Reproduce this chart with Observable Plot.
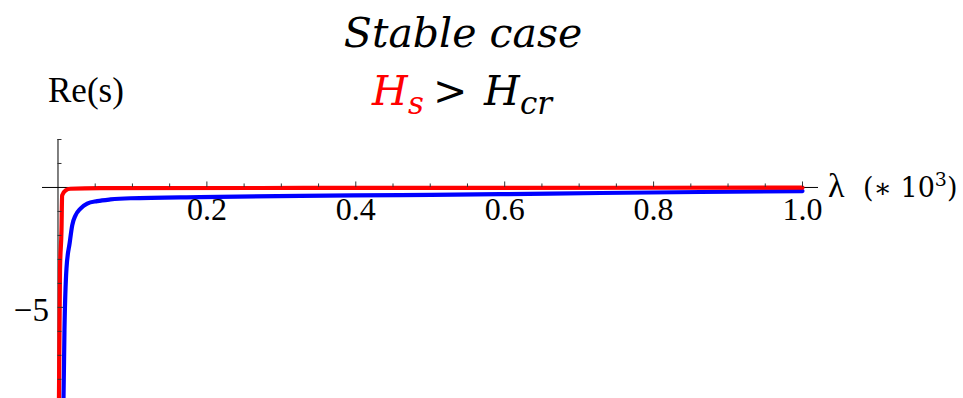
<!DOCTYPE html>
<html>
<head>
<meta charset="utf-8">
<script src="https://cdn.jsdelivr.net/npm/d3@7"></script>
<script src="https://cdn.jsdelivr.net/npm/@observablehq/plot@0.6"></script>
<style>
  html, body { margin: 0; padding: 0; background: #fff; }
  #chart { position: relative; width: 963px; height: 398px; overflow: hidden; }
  #chart svg { position: absolute; left: 0; top: 0; }
</style>
</head>
<body>
<div id="chart"></div>
<script>
// Growth rate Re(s) against wavenumber λ (in units of 10^3), stable case H_s > H_cr

// Red branch
const lambdaRed = [0.0010, 0.0013, 0.0027, 0.0047, 0.0056, 0.0101, 0.0168, 0.057, 0.33, 0.60, 1.00];
const reRed     = [-9.4,   -8.8,   -3.46,  -1.79,  -0.33,  -0.125, -0.054, -0.03, -0.02, -0.015, -0.01];

// Blue branch
const lambdaBlue = [0.0068, 0.0074, 0.0087, 0.0114, 0.0158, 0.0191, 0.0235, 0.0302, 0.0392, 0.0527, 0.0705, 0.0974, 0.191, 0.326, 0.460, 0.594, 0.729, 0.863, 1.000];
const reBlue     = [-9.4,   -8.8,   -5.96,  -3.38,  -2.29,  -1.58,  -1.17,  -0.88,  -0.67,  -0.57,  -0.50,  -0.45,  -0.40, -0.35, -0.32, -0.28, -0.23, -0.19, -0.15];

// Axis ticks and labels
const xMajorTicks = [0.2, 0.4, 0.6, 0.8, 1.0];
const xMajorLabels = ["0.2", "0.4", "0.6", "0.8", "1.0"];
const xMinorTicks = [0.05, 0.1, 0.15, 0.25, 0.3, 0.35, 0.45, 0.5, 0.55, 0.65, 0.7, 0.75, 0.85, 0.9, 0.95];
const yMajorTicks = [-5];
const yMajorLabels = ["\u22125"];
const yMinorTicks = [2, 1, -1, -2, -3, -4, -6, -7, -8];

const red = lambdaRed.map((x, i) => ({x, y: reRed[i]}));
const blue = lambdaBlue.map((x, i) => ({x, y: reBlue[i]}));
const xLabelRows = xMajorTicks.map((x, i) => ({x, label: xMajorLabels[i]}));
const yLabelRows = yMajorTicks.map((y, i) => ({y, label: yMajorLabels[i]}));

const serif = "'Liberation Serif', 'Times New Roman', serif";

const plot = Plot.plot({
  width: 963,
  height: 398,
  marginLeft: 42,
  marginRight: 145,
  marginTop: 139,
  marginBottom: 0,
  x: {domain: [-0.0208, 1.0215], axis: null},
  y: {domain: [-8.8, 2], axis: null},
  style: {background: "transparent", overflow: "visible"},
  marks: [
    Plot.ruleY([0], {stroke: "#000", strokeWidth: 1}),
    Plot.ruleX([0], {stroke: "#000", strokeWidth: 1}),
    Plot.line(blue, {x: "x", y: "y", stroke: "#0000ff", strokeWidth: 4.2, curve: "monotone-x", clip: true}),
    Plot.line(red, {x: "x", y: "y", stroke: "#ff0000", strokeWidth: 4.2, curve: "monotone-x", clip: true}),
    // ticks on the λ axis, pointing up
    Plot.ruleX(xMinorTicks, {x: d => d, y1: 0, y2: 0, insetBottom: 3.5, stroke: "#333", strokeWidth: 1}),
    Plot.ruleX(xMajorTicks, {x: d => d, y1: 0, y2: 0, insetBottom: 5.5, stroke: "#333", strokeWidth: 1}),
    // ticks on the Re(s) axis, pointing right
    Plot.ruleY(yMinorTicks, {y: d => d, x1: 0, x2: 0, insetRight: -4, stroke: "#333", strokeWidth: 1}),
    Plot.ruleY(yMajorTicks, {y: d => d, x1: 0, x2: 0, insetRight: -5.5, stroke: "#333", strokeWidth: 1}),
    Plot.text(xLabelRows, {x: "x", y: 0, text: "label", dy: 22, fontSize: 32, fontFamily: serif, fill: "#000"}),
    Plot.text(yLabelRows, {x: 0, y: "y", text: "label", textAnchor: "end", dx: -9, dy: 3, fontSize: 33, fontFamily: serif, fill: "#000"})
  ]
});

const host = document.getElementById("chart");
host.appendChild(plot);

// Title, condition and axis names
const overlay = d3.select(host).append("svg")
  .attr("width", 963).attr("height", 398)
  .style("pointer-events", "none");

const mathFont = "'DejaVu Serif', serif";

overlay.append("text")
  .attr("x", 463).attr("y", 47)
  .attr("text-anchor", "middle")
  .attr("font-family", mathFont).attr("font-style", "italic")
  .attr("font-size", 41).attr("fill", "#000")
  .text("Stable case");

const cond = overlay.append("g").attr("font-family", mathFont).attr("font-style", "italic");
cond.append("text").attr("x", 372).attr("y", 105).attr("font-size", 41)
  .attr("fill", "#ff0000").text("H");
cond.append("text").attr("x", 408).attr("y", 114).attr("font-size", 31)
  .attr("fill", "#ff0000").text("s");
cond.append("text").attr("x", 433).attr("y", 105).attr("font-size", 41)
  .attr("font-style", "normal").attr("fill", "#000").text(">");
cond.append("text").attr("x", 484).attr("y", 105).attr("font-size", 41)
  .attr("fill", "#000").text("H");
cond.append("text").attr("x", 520).attr("y", 114).attr("font-size", 31)
  .attr("fill", "#000").text("cr");

overlay.append("text")
  .attr("x", 48).attr("y", 102)
  .attr("font-family", serif).attr("font-size", 35).attr("fill", "#000")
  .text("Re(s)");

overlay.append("text")
  .attr("x", 828).attr("y", 197)
  .attr("font-family", serif).attr("font-size", 34).attr("fill", "#000")
  .text("\u03bb");

const unit = overlay.append("text")
  .attr("x", 863).attr("y", 197)
  .attr("font-family", mathFont).attr("font-size", 27).attr("fill", "#000");
unit.append("tspan").text("(\u2217 10");
unit.append("tspan").attr("font-size", 19).attr("dy", -11).text("3");
unit.append("tspan").attr("dy", 11).text(")");
</script>
</body>
</html>
